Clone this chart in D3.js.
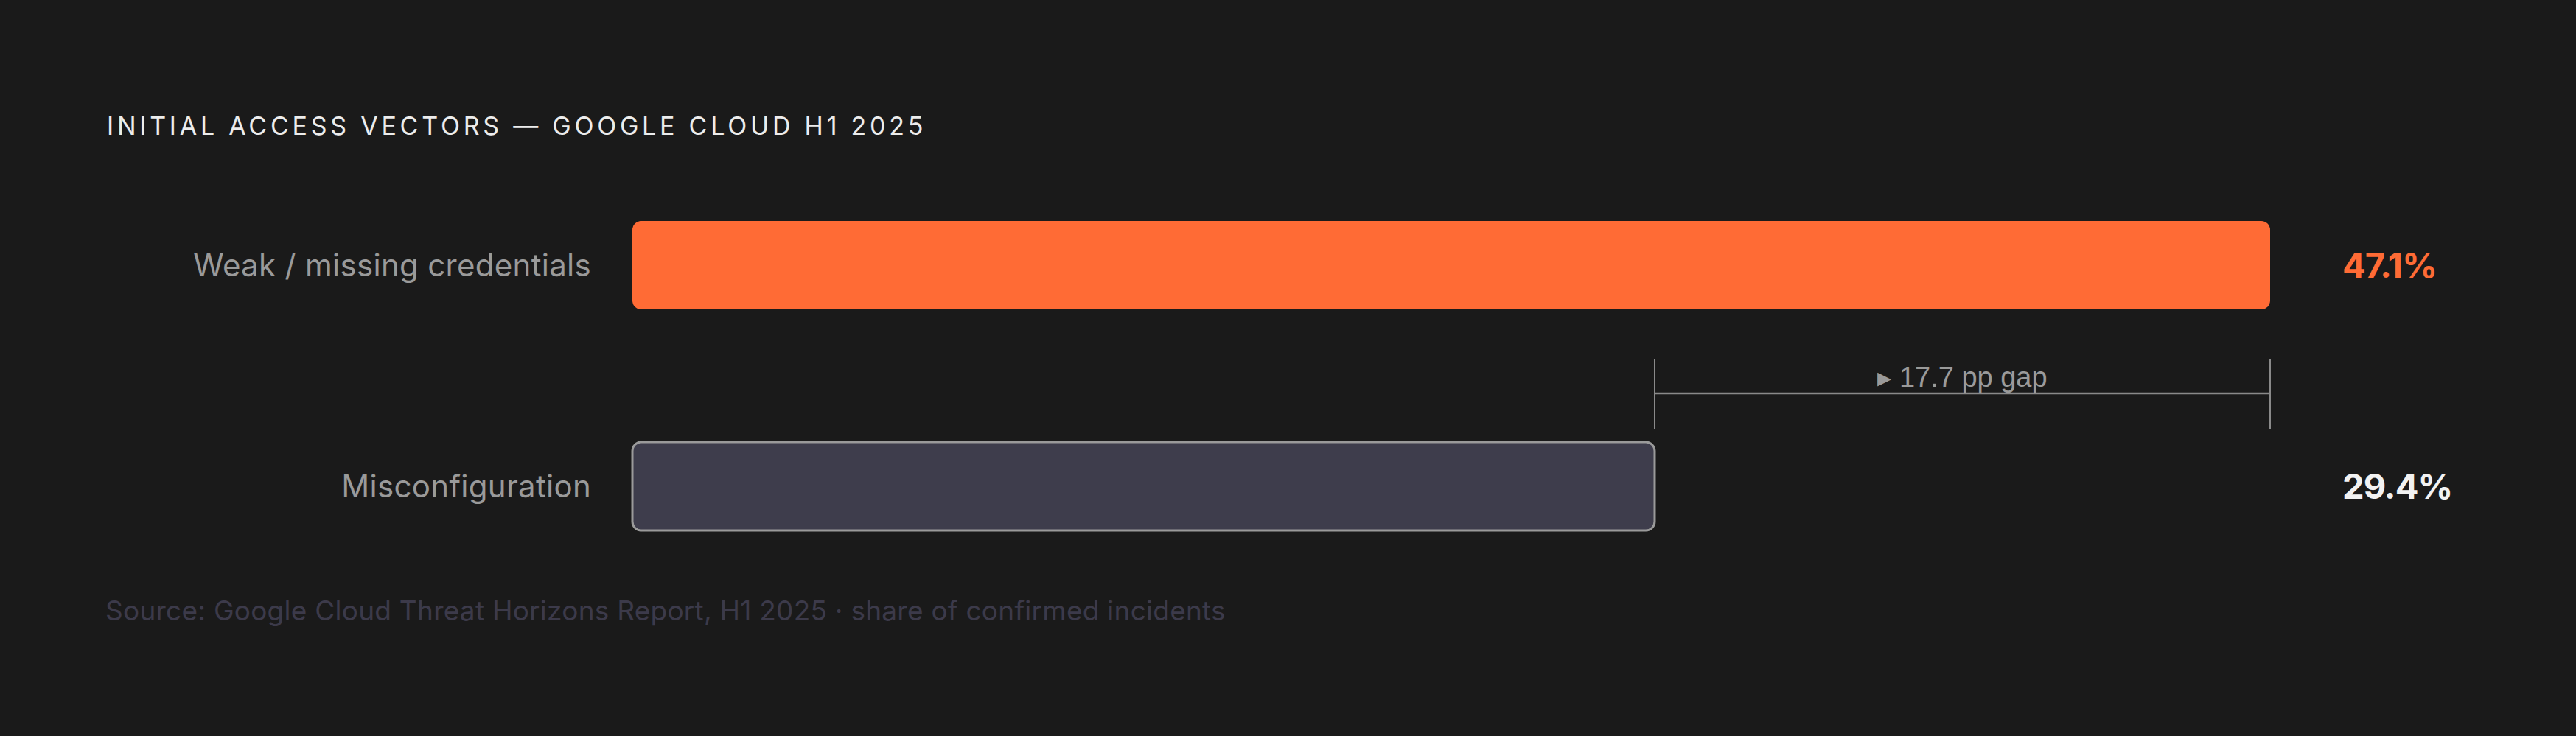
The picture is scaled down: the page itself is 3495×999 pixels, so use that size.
<!DOCTYPE html>
<html>
<head>
<meta charset="utf-8">
<script src="https://cdn.jsdelivr.net/npm/d3@7"></script>
<style>
    html, body { margin: 0; padding: 0; background: #1a1a1a; }
    svg { display: block; }
</style>
</head>
<body>
<svg id="chart"></svg>
<script>
// Data.
const categories = ['Weak / missing credentials', 'Misconfiguration'];
const shares = [47.1, 29.4];
const valueLabels = ['47.1%', '29.4%'];
const titleText = 'INITIAL ACCESS VECTORS — GOOGLE CLOUD H1 2025';
const sourceText = 'Source: Google Cloud Threat Horizons Report, H1 2025 · share of confirmed incidents';

const width = 3495;
const height = 999;
const FONT = 'Inter, "Noto Sans", sans-serif';

const svg = d3.select('#chart').attr('width', width).attr('height', height);

svg.append('rect').attr('width', width).attr('height', height).attr('fill', '#1a1a1a');

// X scale: share -> pixels.
const x = d3.scaleLinear().domain([0, d3.max(shares)]).range([858, 3080]);

// Y scale: one band per category.
const y = d3.scaleBand().domain(categories).range([300, 720]).paddingInner(0.6).paddingOuter(0);

// Title.
svg.append('text')
    .attr('x', 145)
    .attr('y', 183)
    .attr('fill', '#ececec')
    .attr('font-family', FONT)
    .attr('font-size', 34)
    .attr('letter-spacing', '0.14em')
    .text(titleText);

// Bars.
svg.append('g')
    .selectAll('rect')
    .data(categories)
    .join('rect')
    .attr('x', x(0))
    .attr('y', d => y(d))
    .attr('width', (d, i) => x(shares[i]) - x(0))
    .attr('height', y.bandwidth())
    .attr('rx', 12)
    .attr('fill', (d, i) => (i === 0 ? '#ff6b35' : '#3e3d4c'))
    .attr('stroke', (d, i) => (i === 0 ? 'none' : '#9a9a9a'))
    .attr('stroke-width', 3);

// Category labels.
svg.append('g')
    .selectAll('text')
    .data(categories)
    .join('text')
    .attr('x', x(0) - 56)
    .attr('y', d => y(d) + y.bandwidth() / 2)
    .attr('dy', '0.35em')
    .attr('text-anchor', 'end')
    .attr('fill', '#9a9a9a')
    .attr('font-family', FONT)
    .attr('font-size', 42)
    .attr('letter-spacing', '0.3px')
    .text(d => d);

// Value labels.
svg.append('g')
    .selectAll('text')
    .data(categories)
    .join('text')
    .attr('x', x(d3.max(shares)) + 98)
    .attr('y', d => y(d) + y.bandwidth() / 2)
    .attr('dy', '0.36em')
    .attr('fill', (d, i) => (i === 0 ? '#ff6b35' : '#f2f2f2'))
    .attr('font-family', FONT)
    .attr('font-size', 47)
    .attr('font-weight', 700)
    .attr('letter-spacing', '-0.02em')
    .text((d, i) => valueLabels[i]);

// Gap bracket between the two bar ends.
const gap = shares[0] - shares[1];
const gx0 = x(shares[1]);
const gx1 = x(shares[0]);
const gy = 534;
const bracket = svg.append('g').attr('stroke', '#8a8a8a').attr('fill', 'none');
bracket.append('line').attr('x1', gx0).attr('x2', gx1).attr('y1', gy).attr('y2', gy).attr('stroke-width', 2.5);
[gx0, gx1].forEach(gxv => {
    bracket.append('line').attr('x1', gxv).attr('x2', gxv).attr('y1', gy - 47).attr('y2', gy + 48).attr('stroke-width', 2);
});

svg.append('text')
    .attr('x', (gx0 + gx1) / 2)
    .attr('y', gy - 9)
    .attr('text-anchor', 'middle')
    .attr('fill', '#9a9a9a')
    .attr('font-family', '"Liberation Sans", Arial, sans-serif')
    .attr('font-size', 38)
    .text(`▸ ${gap.toFixed(1)} pp gap`);

// Source note.
svg.append('text')
    .attr('x', 143)
    .attr('y', 842)
    .attr('fill', '#3c3a4a')
    .attr('font-family', FONT)
    .attr('font-size', 37)
    .attr('letter-spacing', '0.25px')
    .text(sourceText);
</script>
</body>
</html>
